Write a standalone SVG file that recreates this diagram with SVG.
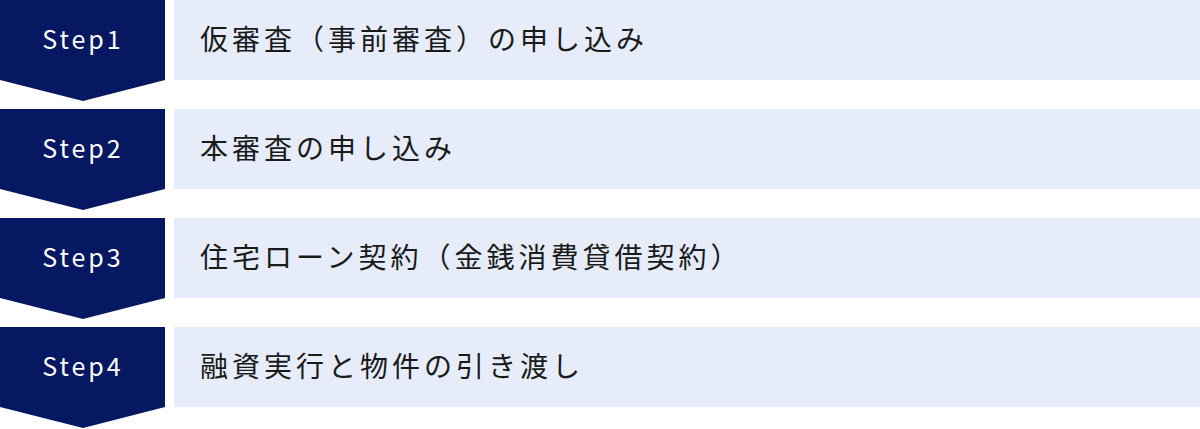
<svg xmlns="http://www.w3.org/2000/svg" width="1200" height="429" viewBox="0 0 1200 429">
<style>
.step{fill:#061861}
.box{fill:#E6ECF9}
.st{font-family:"Noto Sans CJK JP","Noto Sans",sans-serif;font-size:25px;fill:#FFFFFF;letter-spacing:3px;text-anchor:middle}
.lb{font-family:"Noto Sans CJK JP",sans-serif;font-size:28px;fill:#1A1A1A;letter-spacing:4px}
</style>
<rect width="1200" height="429" fill="#FFFFFF"/>
<g id="step1">
<path class="step" d="M0,0H165V80L83,101L0,80Z"/>
<text class="st" x="83" y="49">Step1</text>
<rect class="box" x="174" y="0" width="1026" height="80"/>
<text class="lb" x="200" y="50">仮審査（事前審査）の申し込み</text>
</g>
<g id="step2">
<path class="step" d="M0,109H165V189L83,210L0,189Z"/>
<text class="st" x="83" y="158">Step2</text>
<rect class="box" x="174" y="109" width="1026" height="80"/>
<text class="lb" x="200" y="159">本審査の申し込み</text>
</g>
<g id="step3">
<path class="step" d="M0,218H165V298L83,319L0,298Z"/>
<text class="st" x="83" y="267">Step3</text>
<rect class="box" x="174" y="218" width="1026" height="80"/>
<text class="lb" x="200" y="268">住宅ローン契約（金銭消費貸借契約）</text>
</g>
<g id="step4">
<path class="step" d="M0,327H165V407L83,428L0,407Z"/>
<text class="st" x="83" y="376">Step4</text>
<rect class="box" x="174" y="327" width="1026" height="80"/>
<text class="lb" x="200" y="377">融資実行と物件の引き渡し</text>
</g>
<g id="connectors"></g>
</svg>
